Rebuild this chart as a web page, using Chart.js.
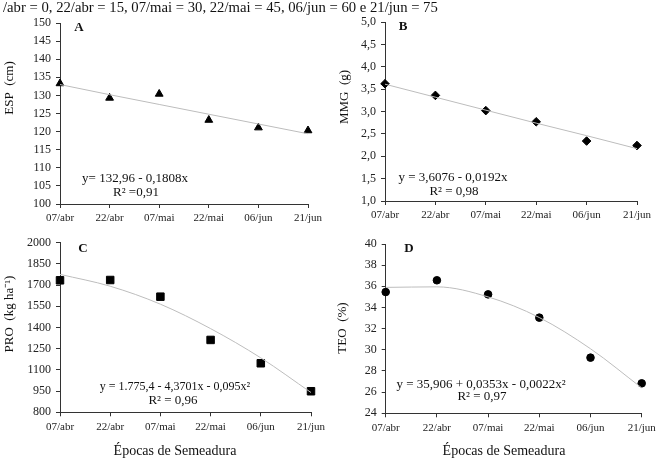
<!DOCTYPE html>
<html>
<head>
<meta charset="utf-8">
<script src="https://cdn.jsdelivr.net/npm/chart.js@4.4.1/dist/chart.umd.min.js"></script>
<style>
  body { margin: 0; background: #fff; }
  #wrap { position: relative; width: 660px; height: 470px; overflow: hidden; }
  canvas { position: absolute; }
  #topnote { position: absolute; left: 3px; top: 0px; font: 14.7px "Liberation Serif", serif; line-height: 14px; color: #111; white-space: nowrap; z-index: 2; }
</style>
</head>
<body>
<div id="wrap">
  <div id="topnote">/abr = 0, 22/abr = 15, 07/mai = 30, 22/mai = 45, 06/jun = 60 e 21/jun = 75</div>
  <canvas id="cA" width="330" height="235" style="left:0;top:0"></canvas>
  <canvas id="cB" width="330" height="235" style="left:330px;top:0"></canvas>
  <canvas id="cC" width="330" height="240" style="left:0;top:230px"></canvas>
  <canvas id="cD" width="330" height="240" style="left:330px;top:230px"></canvas>
</div>
<script>
// semeadura dates, x = days after 07/abr
var dates = ['07/abr', '22/abr', '07/mai', '22/mai', '06/jun', '21/jun']
var days = [0, 15, 30, 45, 60, 75]

var esp = [133.3, 129.3, 130.4, 123.2, 121.1, 120.3]
var mmg = [3.62, 3.36, 3.02, 2.77, 2.34, 2.24]
var pro = [1734, 1736, 1618, 1312, 1147, 949]
var teo = [35.46, 36.57, 35.24, 33.04, 29.26, 26.83]

// fitted lines, read at each date
var espFit = [133.0, 130.2, 127.5, 124.8, 122.1, 119.4]
var mmgFit = [3.61, 3.32, 3.03, 2.74, 2.46, 2.17]
var proFit = [1776, 1692, 1565, 1392, 1185, 940]
var teoFit = [35.9, 35.95, 35.0, 33.05, 30.1, 26.4]

var serif = '"Liberation Serif", "Times New Roman", serif'

var notesPlugin = {
  id: 'notes',
  afterDraw(chart, args, opts) {
    var ctx = chart.ctx
    ;(opts.items || []).forEach(function (n) {
      ctx.save()
      ctx.fillStyle = n.color || '#111'
      ctx.font = (n.bold ? 'bold ' : '') + n.size + 'px ' + serif
      ctx.textAlign = 'center'
      ctx.textBaseline = 'middle'
      ctx.translate(n.x, n.y)
      if (n.rotate) ctx.rotate(-Math.PI / 2)
      ctx.fillText(n.text, 0, 0)
      ctx.restore()
    })
  }
}

function pts(ys) {
  return ys.map(function (y, i) { return {x: days[i], y: y} })
}

function makeChart(id, cfg) {
  return new Chart(document.getElementById(id), {
    type: 'line',
    data: {
      datasets: [{
        data: pts(cfg.fit),
        borderColor: '#bdbdbd',
        borderWidth: 1,
        pointRadius: 0,
        tension: cfg.curve ? 0.4 : 0,
        cubicInterpolationMode: cfg.curve ? 'monotone' : 'default',
        clip: false
      }, {
        data: pts(cfg.obs),
        showLine: false,
        pointStyle: cfg.marker,
        pointRadius: cfg.radius,
        pointBackgroundColor: '#000',
        pointBorderColor: '#000',
        pointBorderWidth: 1,
        clip: false
      }]
    },
    options: {
      responsive: false,
      animation: false,
      events: [],
      layout: {padding: cfg.pad},
      plugins: {
        legend: {display: false},
        tooltip: {enabled: false},
        notes: {items: cfg.notes}
      },
      scales: {
        x: {
          type: 'linear',
          min: 0,
          max: 75,
          afterFit: function (s) { s.height = cfg.xh },
          afterBuildTicks: function (s) { s.ticks = days.map(function (d) { return {value: d} }) },
          ticks: {
            color: '#222',
            font: {family: serif, size: 11},
            padding: 4,
            maxRotation: 0,
            callback: function (v) { return dates[days.indexOf(v)] }
          },
          grid: {drawOnChartArea: false, drawTicks: true, tickLength: 4, color: '#333'},
          border: {color: '#333', width: 1}
        },
        y: {
          min: cfg.ymin,
          max: cfg.ymax,
          afterFit: function (s) { s.width = cfg.yw },
          ticks: {
            stepSize: cfg.step,
            color: '#222',
            font: {family: serif, size: 12},
            padding: 5,
            callback: cfg.fmt || function (v) { return v }
          },
          grid: {drawOnChartArea: false, drawTicks: true, tickLength: 4, color: '#333'},
          border: {color: '#333', width: 1}
        }
      }
    },
    plugins: [notesPlugin]
  })
}

var comma1 = function (v) { return v.toFixed(1).replace('.', ',') }

makeChart('cA', {
  obs: esp, fit: espFit, marker: 'triangle', radius: 4.5,
  ymin: 100, ymax: 150, step: 5, yw: 60, xh: 31,
  pad: {top: 23, right: 22, left: 0, bottom: 0},
  notes: [
    {text: 'A', x: 79, y: 28, size: 13, bold: true},
    {text: 'ESP  (cm)', x: 10, y: 88, size: 13, rotate: true},
    {text: 'y= 132,96 - 0,1808x', x: 135, y: 179, size: 13},
    {text: 'R² =0,91', x: 136, y: 193, size: 13}
  ]
})

makeChart('cB', {
  obs: mmg, fit: mmgFit, marker: 'rectRot', radius: 4.3,
  ymin: 1, ymax: 5, step: 0.5, yw: 55, xh: 34, fmt: comma1,
  pad: {top: 22, right: 23, left: 0, bottom: 0},
  notes: [
    {text: 'B', x: 73, y: 27, size: 13, bold: true},
    {text: 'MMG  (g)', x: 15, y: 97, size: 13, rotate: true},
    {text: 'y = 3,6076 - 0,0192x', x: 123, y: 178, size: 13},
    {text: 'R² = 0,98', x: 124, y: 192, size: 13}
  ]
})

makeChart('cC', {
  obs: pro, fit: proFit, marker: 'rect', radius: 5.3, curve: true,
  ymin: 800, ymax: 2000, step: 150, yw: 60, xh: 57.7,
  pad: {top: 12.7, right: 19, left: 0, bottom: 0},
  notes: [
    {text: 'C', x: 83, y: 19, size: 13, bold: true},
    {text: 'PRO  (kg ha⁻¹)', x: 10, y: 84, size: 13, rotate: true},
    {text: 'y = 1.775,4 - 4,3701x - 0,095x²', x: 175, y: 157, size: 12},
    {text: 'R² = 0,96', x: 173, y: 171, size: 13},
    {text: 'Épocas de Semeadura', x: 175, y: 221, size: 14}
  ]
})

makeChart('cD', {
  obs: teo, fit: teoFit, marker: 'circle', radius: 3.8, curve: true,
  ymin: 24, ymax: 40, step: 2, yw: 55.7, xh: 56.7,
  pad: {top: 14, right: 18.3, left: 0, bottom: 0},
  notes: [
    {text: 'D', x: 79, y: 19, size: 13, bold: true},
    {text: 'TEO  (%)', x: 13, y: 98, size: 13, rotate: true},
    {text: 'y = 35,906 + 0,0353x - 0,0022x²', x: 151, y: 155, size: 13},
    {text: 'R² = 0,97', x: 152, y: 167, size: 13},
    {text: 'Épocas de Semeadura', x: 174, y: 221, size: 14}
  ]
})
</script>
</body>
</html>
